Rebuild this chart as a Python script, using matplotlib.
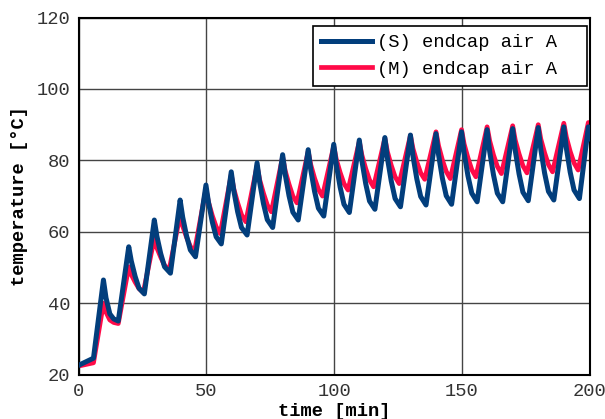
import matplotlib
matplotlib.use("Agg")
import matplotlib.pyplot as plt

# ------------------------------------------------------------------
#  endcap air temperature, (S) vs (M) model
#  values (vertices of the zig-zag)
# ------------------------------------------------------------------

# (S) endcap air A : time [min], temperature [C]
t_s = [0.0, 5.8, 9.7, 10.7, 12.2, 13.7, 15.5,
       19.6, 20.6, 22.1, 23.6, 25.7,
       29.6, 30.6, 32.1, 33.6, 35.9,
       39.7, 40.7, 42.2, 43.7, 45.7,
       49.8, 50.8, 52.3, 53.8, 55.8,
       59.7, 60.7, 62.2, 63.7, 65.9,
       69.8, 70.8, 72.3, 73.8, 75.9,
       79.8, 80.8, 82.3, 83.8, 85.9,
       89.8, 90.8, 92.3, 93.8, 95.9,
       99.8, 100.8, 102.3, 103.8, 105.9,
       109.8, 110.8, 112.3, 113.8, 115.9,
       119.8, 120.8, 122.3, 123.8, 125.9,
       129.8, 130.8, 132.3, 133.8, 135.9,
       139.8, 140.8, 142.3, 143.8, 145.9,
       149.8, 150.8, 152.3, 153.8, 155.9,
       159.8, 160.8, 162.3, 163.8, 165.9,
       169.8, 170.8, 172.3, 173.8, 175.9,
       179.8, 180.8, 182.3, 183.8, 185.9,
       189.8, 190.8, 192.3, 193.8, 195.9,
       199.4, 200.0]
temp_s = [22.6, 24.6, 46.5, 41.5, 37.0, 35.6, 35.0,
          55.8, 51.8, 47.5, 44.2, 42.6,
          63.3, 58.8, 53.9, 50.2, 48.4,
          68.9, 64.1, 58.9, 54.9, 53.0,
          73.1, 68.2, 62.7, 58.6, 56.6,
          76.8, 71.5, 65.6, 61.2, 59.1,
          79.3, 73.9, 67.9, 63.4, 61.2,
          81.6, 76.1, 70.1, 65.5, 63.3,
          83.0, 77.4, 71.3, 66.6, 64.4,
          84.5, 78.8, 72.5, 67.7, 65.4,
          85.7, 79.9, 73.5, 68.6, 66.3,
          86.4, 80.6, 74.2, 69.3, 67.0,
          87.1, 81.2, 74.8, 69.9, 67.5,
          87.5, 81.6, 75.0, 70.1, 67.7,
          88.0, 82.1, 75.7, 70.8, 68.4,
          88.6, 82.5, 75.9, 70.8, 68.4,
          88.9, 82.8, 76.2, 71.1, 68.7,
          89.2, 83.1, 76.4, 71.3, 68.9,
          89.4, 83.4, 76.7, 71.7, 69.3,
          89.4, 86.0]

# (M) endcap air A
t_m = [0.0, 5.8, 9.7, 10.7, 12.2, 13.7, 15.5,
       19.6, 20.6, 22.1, 23.6, 25.3,
       29.6, 30.6, 32.1, 33.6, 35.4,
       39.7, 40.7, 42.2, 43.7, 45.3,
       49.8, 50.8, 52.3, 53.8, 55.4,
       59.7, 60.7, 62.2, 63.7, 65.4,
       69.8, 70.8, 72.3, 73.8, 75.4,
       79.8, 80.8, 82.3, 83.8, 85.4,
       89.8, 90.8, 92.3, 93.8, 95.4,
       99.8, 100.8, 102.3, 103.8, 105.4,
       109.8, 110.8, 112.3, 113.8, 115.4,
       119.8, 120.8, 122.3, 123.8, 125.4,
       129.8, 130.8, 132.3, 133.8, 135.4,
       139.8, 140.8, 142.3, 143.8, 145.4,
       149.8, 150.8, 152.3, 153.8, 155.4,
       159.8, 160.8, 162.3, 163.8, 165.4,
       169.8, 170.8, 172.3, 173.8, 175.4,
       179.8, 180.8, 182.3, 183.8, 185.4,
       189.8, 190.8, 192.3, 193.8, 195.4,
       199.4, 200.0]
temp_m = [22.4, 23.3, 40.0, 37.5, 35.3, 34.6, 34.3,
          50.2, 48.0, 45.9, 44.1, 43.0,
          58.2, 55.5, 52.9, 50.6, 49.3,
          64.7, 61.6, 58.5, 55.9, 54.4,
          72.0, 68.3, 64.5, 61.4, 59.5,
          76.0, 72.0, 68.1, 64.8, 62.8,
          78.5, 74.6, 70.8, 67.5, 65.6,
          81.0, 77.1, 73.3, 70.0, 68.1,
          82.5, 78.8, 75.0, 71.9, 70.0,
          84.0, 80.3, 76.6, 73.5, 71.7,
          85.3, 81.5, 77.7, 74.5, 72.6,
          86.2, 82.4, 78.6, 75.4, 73.5,
          87.0, 83.3, 79.6, 76.5, 74.7,
          88.0, 84.1, 80.1, 76.9, 74.9,
          88.6, 84.6, 80.7, 77.4, 75.4,
          89.4, 85.5, 81.5, 78.3, 76.3,
          89.7, 85.7, 81.8, 78.5, 76.5,
          90.0, 86.0, 82.1, 78.8, 76.8,
          90.4, 86.5, 82.5, 79.3, 77.3,
          90.6, 89.0]

x_ticks = [0, 50, 100, 150, 200]
y_ticks = [20, 40, 60, 80, 100, 120]

plt.rcParams['font.family'] = ['Liberation Mono', 'DejaVu Sans Mono']
plt.rcParams['font.size'] = 13.5

fig = plt.figure(figsize=(6.05, 4.19), dpi=100)
ax = fig.add_axes([0.130, 0.106, 0.845, 0.852])

ax.plot(t_s, temp_s, color='#023e7c', linewidth=3.6, zorder=3,
        solid_joinstyle='round', label='(S) endcap air A')
ax.plot(t_m, temp_m, color='#ff0a48', linewidth=3.4, zorder=2,
        solid_joinstyle='round', label='(M) endcap air A')

ax.set_xlim(0, 200); ax.set_ylim(20, 120)
ax.set_xticks(x_ticks); ax.set_yticks(y_ticks)
ax.grid(True, color='#444444', linewidth=1.0, zorder=1)
ax.tick_params(direction='in', length=0, pad=6, colors='#333333')
for sp in ax.spines.values():
    sp.set_linewidth(1.5); sp.set_color('black')

ax.set_xlabel("time [min]", fontweight='bold', labelpad=2)
ax.set_ylabel("temperature [°C]", fontweight='bold', labelpad=6)

# legend box stretched to the width it has in the reference
leg = ax.legend(loc='upper left', bbox_to_anchor=(0.458, 0.819, 0.536, 0.158),
                mode='expand', fancybox=False, framealpha=1.0,
                edgecolor='black', handlelength=2.7, handletextpad=0.3,
                borderpad=0.45, labelspacing=0.5, borderaxespad=0.0)
leg.get_frame().set_linewidth(1.2)

fig.savefig("out.png", dpi=100)
